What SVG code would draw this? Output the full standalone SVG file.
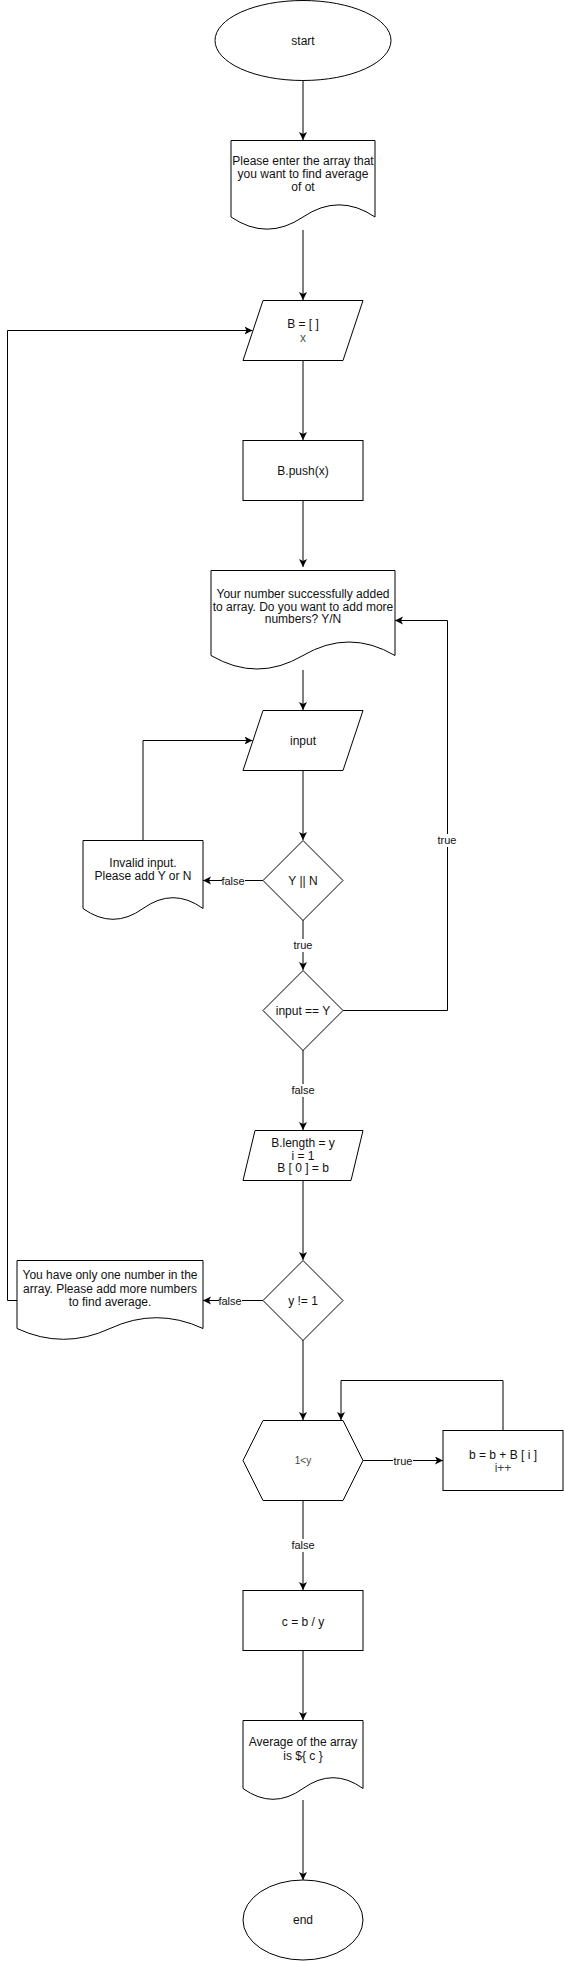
<svg xmlns="http://www.w3.org/2000/svg" width="564" height="1961" viewBox="0 0 564 1961">
<defs>
<style>
.s{fill:#fff;stroke:#000;stroke-width:1}
.t{font-family:"Liberation Sans",Arial,sans-serif;font-size:12px;fill:#111;text-anchor:middle;dominant-baseline:central}
.e{fill:none;stroke:#000;stroke-width:1}
.l{font-family:"Liberation Sans",Arial,sans-serif;font-size:11px;fill:#111;text-anchor:middle;dominant-baseline:central}
.lb{fill:#fff}
</style>
<marker id="arr" markerWidth="10" markerHeight="10" refX="8" refY="4" orient="auto" markerUnits="userSpaceOnUse">
<path d="M8,4 L0,0 L2,4 L0,8 Z" fill="#000"/>
</marker>
</defs>
<rect width="564" height="1961" fill="#fff"/>

<g id="connectors">
<path class="e" d="M303,80 L303,140" marker-end="url(#arr)"/>
<path class="e" d="M303,230 L303,300" marker-end="url(#arr)"/>
<path class="e" d="M303,360 L303,440" marker-end="url(#arr)"/>
<path class="e" d="M303,500 L303,567" marker-end="url(#arr)"/>
<path class="e" d="M303,670 L303,710" marker-end="url(#arr)"/>
<path class="e" d="M303,770 L303,840" marker-end="url(#arr)"/>
<path class="e" d="M263,880.5 L203,880.5" marker-end="url(#arr)"/>
<path class="e" d="M143,840 L143,740.5 L252.5,740.5" marker-end="url(#arr)"/>
<path class="e" d="M303,920 L303,970" marker-end="url(#arr)"/>
<path class="e" d="M343,1010.5 L447.5,1010.5 L447.5,620.5 L395,620.5" marker-end="url(#arr)"/>
<path class="e" d="M303,1050 L303,1130" marker-end="url(#arr)"/>
<path class="e" d="M303,1180 L303,1260" marker-end="url(#arr)"/>
<path class="e" d="M263,1300.5 L203,1300.5" marker-end="url(#arr)"/>
<path class="e" d="M17,1300.5 L7.5,1300.5 L7.5,330.5 L252.5,330.5" marker-end="url(#arr)"/>
<path class="e" d="M303,1340 L303,1420" marker-end="url(#arr)"/>
<path class="e" d="M363,1460.5 L443,1460.5" marker-end="url(#arr)"/>
<path class="e" d="M503,1430 L503,1380.5 L341,1380.5 L341,1420" marker-end="url(#arr)"/>
<path class="e" d="M303,1500 L303,1590" marker-end="url(#arr)"/>
<path class="e" d="M303,1650 L303,1720" marker-end="url(#arr)"/>
<path class="e" d="M303,1800 L303,1880" marker-end="url(#arr)"/>
<rect class="lb" x="222" y="874" width="23" height="13"/><text class="l" x="233" y="880.5">false</text>
<rect class="lb" x="293" y="939" width="20" height="13"/><text class="l" x="303" y="945">true</text>
<rect class="lb" x="437" y="834" width="21" height="13"/><text class="l" x="447" y="840">true</text>
<rect class="lb" x="291" y="1084" width="24" height="13"/><text class="l" x="303" y="1090">false</text>
<rect class="lb" x="219" y="1294" width="23" height="13"/><text class="l" x="230" y="1300.5">false</text>
<rect class="lb" x="393" y="1454" width="20" height="13"/><text class="l" x="403" y="1460.5">true</text>
<rect class="lb" x="291" y="1539" width="24" height="13"/><text class="l" x="303" y="1545">false</text>
</g>

<g id="start">
<ellipse class="s" cx="303" cy="40.5" rx="88" ry="40"/>
<text class="t" x="303" y="40.5">start</text>
</g>

<g id="prompt">
<path class="s" d="M231,140.5 L375,140.5 L375,217 Q339,192.7 303,217 Q267,241.3 231,217 Z"/>
<text class="t" x="303" y="161">Please enter the array that</text>
<text class="t" x="303" y="174">you want to find average</text>
<text class="t" x="303" y="187">of ot</text>
</g>

<g id="initArray">
<path class="s" d="M263,300.5 L363,300.5 L343,360.5 L243,360.5 Z"/>
<text class="t" x="303" y="324">B = [ ]</text>
<text class="t" x="303" y="338" style="fill:#555">x</text>
</g>

<g id="push">
<rect class="s" x="243" y="440.5" width="120" height="60"/>
<text class="t" x="303" y="471">B.push(x)</text>
</g>

<g id="addedMsg">
<path class="s" d="M211,570.5 L395,570.5 L395,655.5 Q349,628.5 303,655.5 Q257,682.5 211,655.5 Z"/>
<text class="t" x="303" y="594">Your number successfully added</text>
<text class="t" x="303" y="606.5">to array. Do you want to add more</text>
<text class="t" x="303" y="619">numbers? Y/N</text>
</g>

<g id="input">
<path class="s" d="M263,710.5 L363,710.5 L343,770.5 L243,770.5 Z"/>
<text class="t" x="303" y="741">input</text>
</g>

<g id="checkYN">
<path class="s" d="M303,840.5 L343,880.5 L303,920.5 L263,880.5 Z"/>
<text class="t" x="303" y="881">Y || N</text>
</g>

<g id="invalidMsg">
<path class="s" d="M83,840.5 L203,840.5 L203,908.5 Q173,886.9 143,908.5 Q113,930.1 83,908.5 Z"/>
<text class="t" x="143" y="862.7">Invalid input.</text>
<text class="t" x="143" y="875.7">Please add Y or N</text>
</g>

<g id="checkY">
<path class="s" d="M303,970.5 L343,1010.5 L303,1050.5 L263,1010.5 Z"/>
<text class="t" x="303" y="1010.5">input == Y</text>
</g>

<g id="lengthInit">
<path class="s" d="M255,1130.5 L363,1130.5 L351,1180.5 L243,1180.5 Z"/>
<text class="t" x="303" y="1143">B.length = y</text>
<text class="t" x="303" y="1155.5">i = 1</text>
<text class="t" x="303" y="1168">B [ 0 ] = b</text>
</g>

<g id="checkOne">
<path class="s" d="M303,1260.5 L343,1300.5 L303,1340.5 L263,1300.5 Z"/>
<text class="t" x="303" y="1300.5">y != 1</text>
</g>

<g id="oneMsg">
<path class="s" d="M17,1260.5 L203,1260.5 L203,1328.5 Q156.5,1306.9 110,1328.5 Q63.5,1350.1 17,1328.5 Z"/>
<text class="t" x="110" y="1275">You have only one number in the</text>
<text class="t" x="110" y="1288.5">array. Please add more numbers</text>
<text class="t" x="110" y="1302">to find average.</text>
</g>

<g id="loopCheck">
<path class="s" d="M243,1460.5 L263,1420.5 L343,1420.5 L363,1460.5 L343,1500.5 L263,1500.5 Z"/>
<text class="t" x="303" y="1460" style="font-size:10px;fill:#444">1&lt;y</text>
</g>

<g id="sum">
<rect class="s" x="443" y="1430.5" width="120" height="60"/>
<text class="t" x="503" y="1455">b = b + B [ i ]</text>
<text class="t" x="503" y="1468.3" style="fill:#444">i++</text>
</g>

<g id="average">
<rect class="s" x="243" y="1590.5" width="120" height="60"/>
<text class="t" x="303" y="1621.5">c = b / y</text>
</g>

<g id="result">
<path class="s" d="M243,1720.5 L363,1720.5 L363,1788.5 Q333,1766.9 303,1788.5 Q273,1810.1 243,1788.5 Z"/>
<text class="t" x="303" y="1742.3">Average of the array</text>
<text class="t" x="303" y="1756">is ${ c }</text>
</g>

<g id="end">
<ellipse class="s" cx="303" cy="1920" rx="60" ry="40"/>
<text class="t" x="303" y="1920">end</text>
</g>
</svg>
